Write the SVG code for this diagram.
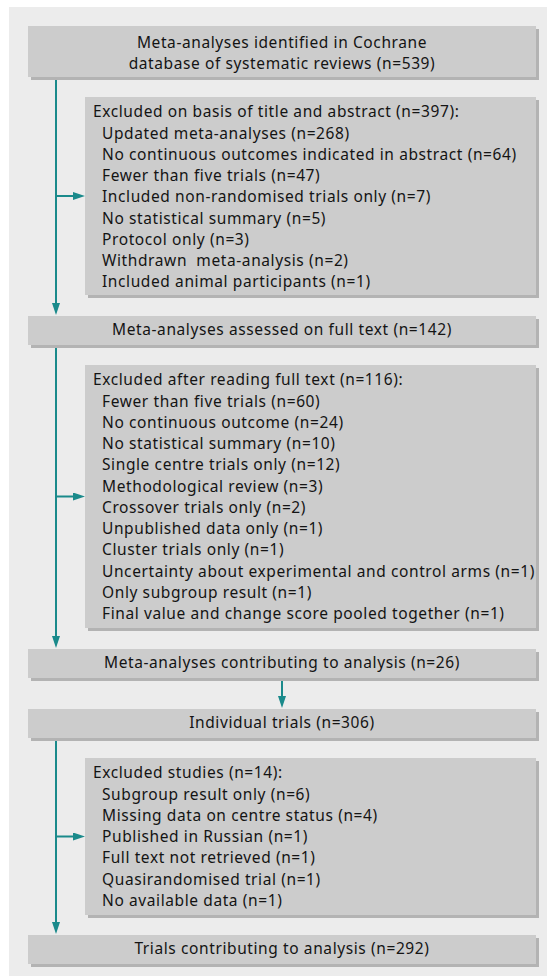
<svg xmlns="http://www.w3.org/2000/svg" width="547" height="976" viewBox="0 0 547 976">
<style>
.bg{fill:#ececec}
.sh{fill:#b3b3b3}
.bx{fill:#cccccc}
text{font-family:"Noto Sans","Open Sans","DejaVu Sans",sans-serif;font-size:15.5px;fill:#141414;letter-spacing:0.6px}
.c{text-anchor:middle}
.con{fill:none;stroke:#1a8a8b;stroke-width:2}
</style>
<defs>
<marker id="ah" viewBox="0 0 12 8" refX="4" refY="4" markerWidth="12" markerHeight="8" markerUnits="userSpaceOnUse" orient="auto">
<path d="M0,0 L12,4 L0,8 z" fill="#1a8a8b"/>
</marker>
</defs>
<rect x="0" y="0" width="547" height="976" fill="#ffffff"/>
<rect class="bg" x="9" y="7" width="538" height="969"/>

<g id="connectors">
<path class="con" d="M56,77 V307" marker-end="url(#ah)"/>
<path class="con" d="M56,196 H77" marker-end="url(#ah)"/>
<path class="con" d="M56,345 V640" marker-end="url(#ah)"/>
<path class="con" d="M56,496.5 H77" marker-end="url(#ah)"/>
<path class="con" d="M282,678 V700" marker-end="url(#ah)"/>
<path class="con" d="M56,738 V926" marker-end="url(#ah)"/>
<path class="con" d="M56,836.5 H77" marker-end="url(#ah)"/>
</g>

<g id="n1">
<rect class="sh" x="31" y="29" width="508" height="51"/>
<rect class="bx" x="28" y="26" width="508" height="51"/>
<text class="c" x="282" y="47.5">Meta-analyses identified in Cochrane</text>
<text class="c" x="282" y="68.5">database of systematic reviews (n=539)</text>
</g>

<g id="n2">
<rect class="sh" x="88" y="100" width="451" height="198"/>
<rect class="bx" x="85" y="97" width="451" height="198"/>
<text x="93" y="117.3">Excluded on basis of title and abstract (n=397):</text>
<text x="102" y="138.5">Updated meta-analyses (n=268)</text>
<text x="102" y="159.8">No continuous outcomes indicated in abstract (n=64)</text>
<text x="102" y="181">Fewer than five trials (n=47)</text>
<text x="102" y="202.3">Included non-randomised trials only (n=7)</text>
<text x="102" y="223.5">No statistical summary (n=5)</text>
<text x="102" y="244.8">Protocol only (n=3)</text>
<text x="102" y="266" xml:space="preserve">Withdrawn  meta-analysis (n=2)</text>
<text x="102" y="287.3">Included animal participants (n=1)</text>
</g>

<g id="n3">
<rect class="sh" x="31" y="319" width="508" height="29"/>
<rect class="bx" x="28" y="316" width="508" height="29"/>
<text class="c" x="282" y="335.3">Meta-analyses assessed on full text (n=142)</text>
</g>

<g id="n4">
<rect class="sh" x="88" y="368" width="451" height="263"/>
<rect class="bx" x="85" y="365" width="451" height="263"/>
<text x="93" y="385.3">Excluded after reading full text (n=116):</text>
<text x="102" y="406.5">Fewer than five trials (n=60)</text>
<text x="102" y="427.8">No continuous outcome (n=24)</text>
<text x="102" y="449">No statistical summary (n=10)</text>
<text x="102" y="470.3">Single centre trials only (n=12)</text>
<text x="102" y="491.5">Methodological review (n=3)</text>
<text x="102" y="512.8">Crossover trials only (n=2)</text>
<text x="102" y="534">Unpublished data only (n=1)</text>
<text x="102" y="555.3">Cluster trials only (n=1)</text>
<text x="102" y="576.5">Uncertainty about experimental and control arms (n=1)</text>
<text x="102" y="597.8">Only subgroup result (n=1)</text>
<text x="102" y="619">Final value and change score pooled together (n=1)</text>
</g>

<g id="n5">
<rect class="sh" x="31" y="652" width="508" height="29"/>
<rect class="bx" x="28" y="649" width="508" height="29"/>
<text class="c" x="282" y="668.3">Meta-analyses contributing to analysis (n=26)</text>
</g>

<g id="n6">
<rect class="sh" x="31" y="712" width="508" height="29"/>
<rect class="bx" x="28" y="709" width="508" height="29"/>
<text class="c" x="282" y="728.3">Individual trials (n=306)</text>
</g>

<g id="n7">
<rect class="sh" x="88" y="761" width="451" height="157"/>
<rect class="bx" x="85" y="758" width="451" height="157"/>
<text x="93" y="778.3">Excluded studies (n=14):</text>
<text x="102" y="799.5">Subgroup result only (n=6)</text>
<text x="102" y="820.8">Missing data on centre status (n=4)</text>
<text x="102" y="842">Published in Russian (n=1)</text>
<text x="102" y="863.3">Full text not retrieved (n=1)</text>
<text x="102" y="884.5">Quasirandomised trial (n=1)</text>
<text x="102" y="905.8">No available data (n=1)</text>
</g>

<g id="n8">
<rect class="sh" x="31" y="938" width="508" height="29"/>
<rect class="bx" x="28" y="935" width="508" height="29"/>
<text class="c" x="282" y="954.3">Trials contributing to analysis (n=292)</text>
</g>
</svg>
